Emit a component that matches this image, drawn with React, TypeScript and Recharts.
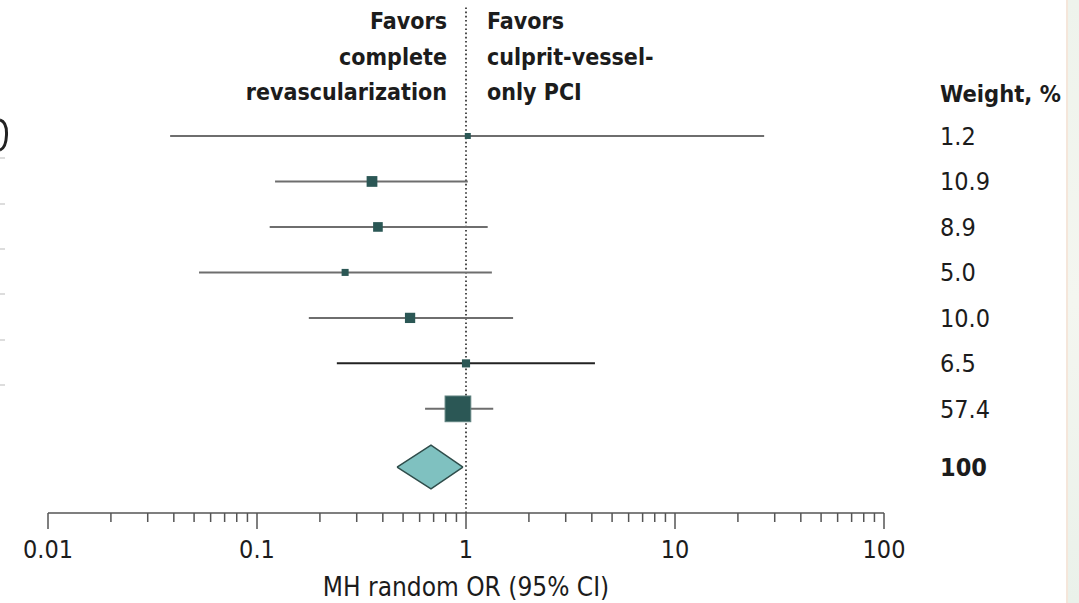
import {
  Area,
  ComposedChart,
  ReferenceLine,
  Scatter,
  XAxis,
  YAxis,
} from 'recharts';

// Study rows, top to bottom
const studyRows = [1, 2, 3, 4, 5, 6, 7];
const oddsRatio = [1.02, 0.355, 0.379, 0.264, 0.54, 1.0, 0.915];
const ciLow = [0.0384, 0.122, 0.115, 0.0528, 0.177, 0.241, 0.637];
const ciHigh = [26.7, 1.02, 1.27, 1.33, 1.68, 4.14, 1.35];
const weightPct = [1.2, 10.9, 8.9, 5.0, 10.0, 6.5, 57.4];

// Pooled estimate (diamond)
const pooledRow = 8.28;
const pooledOR = 0.68;
const pooledLow = 0.468;
const pooledHigh = 0.967;
const pooledWeight = 100;

// Axis ticks
const majorTicks = [0.01, 0.1, 1, 10, 100];
const majorLabels = ['0.01', '0.1', '1', '10', '100'];
const minorMultiples = [2, 3, 4, 5, 6, 7, 8, 9];

const headerRow = 0;
const headerLabel = 'Weight, %';
const axisTitle = 'MH random OR (95% CI)';
const favorsLeft = ['Favors', 'complete', 'revascularization'];
const favorsRight = ['Favors', 'culprit-vessel-', 'only PCI'];

const FONT = "'DejaVu Sans Condensed', 'DejaVu Sans', sans-serif";
const TEXT = '#1c1c1c';
const MARKER = '#2b5755';

const studies = studyRows.map((row, i) => ({
  row,
  or: oddsRatio[i],
  lo: ciLow[i],
  hi: ciHigh[i],
  weight: weightPct[i],
}));

const diamond = [
  { or: pooledLow, band: [pooledRow, pooledRow] },
  { or: pooledOR, band: [pooledRow - 0.48, pooledRow + 0.48] },
  { or: pooledHigh, band: [pooledRow, pooledRow] },
];

const allTicks = [
  ...majorTicks,
  ...majorTicks.slice(0, -1).flatMap((d) => minorMultiples.map((m) => m * d)),
].sort((a, b) => a - b);

const weightByRow: Record<string, string> = { [headerRow]: headerLabel };
studies.forEach((s) => (weightByRow[s.row] = s.weight.toFixed(1)));
weightByRow[pooledRow] = String(pooledWeight);

function XTick({ x, y, payload }: any) {
  const idx = majorTicks.indexOf(payload.value);
  const major = idx >= 0;
  return (
    <g>
      <line x1={x} x2={x} y1={y} y2={y + (major ? 16 : 9)} stroke="#555" strokeWidth={1.5} />
      {major && (
        <text x={x} y={y + 45} textAnchor="middle" fill={TEXT} fontSize={25} fontFamily={FONT}>
          {majorLabels[idx]}
        </text>
      )}
    </g>
  );
}

function WeightTick({ x, y, payload }: any) {
  const v = payload.value;
  const bold = v === headerRow || v === pooledRow;
  return (
    <text
      x={x}
      y={y + (v === headerRow ? 11 : 9)}
      textAnchor="start"
      fill={TEXT}
      fontSize={v === headerRow ? 23.5 : 25}
      fontWeight={bold ? 700 : 400}
      fontFamily={FONT}
    >
      {weightByRow[v]}
    </text>
  );
}

function StudyMarker({ cx, cy, payload }: any) {
  const big = payload.weight > 50;
  const side = Math.max(6, 3.5 * Math.sqrt(payload.weight) - 0.8);
  return (
    <rect
      x={cx - side / 2}
      y={cy - side / 2}
      width={side}
      height={side}
      fill={MARKER}
      stroke={big ? '#5f827f' : 'none'}
      strokeWidth={1}
    />
  );
}

export default function App() {
  return (
    <div style={{ position: 'absolute', left: 0, top: 0, width: 1079, height: 603, background: '#fff', fontFamily: FONT }}>
      <ComposedChart
        width={1079}
        height={603}
        margin={{ top: 5, right: 0, left: 48, bottom: 0 }}
      >
        <XAxis
          dataKey="or"
          type="number"
          scale="log"
          domain={[0.01, 100]}
          allowDataOverflow
          ticks={allTicks}
          interval={0}
          tick={<XTick />}
          tickLine={false}
          tickSize={0}
          tickMargin={0}
          axisLine={{ stroke: '#555', strokeWidth: 1.5 }}
          height={90}
          label={{
            value: axisTitle,
            position: 'insideBottom',
            offset: 7,
            fill: TEXT,
            fontSize: 26,
            fontFamily: FONT,
          }}
        />
        <YAxis
          dataKey="row"
          type="number"
          orientation="right"
          reversed
          domain={[-1.88, 9.29]}
          allowDataOverflow
          ticks={[headerRow, ...studyRows, pooledRow]}
          interval={0}
          tick={<WeightTick />}
          tickLine={false}
          axisLine={false}
          tickSize={0}
          tickMargin={56}
          width={195}
        />
        <ReferenceLine x={1} stroke="#222" strokeWidth={1.6} strokeDasharray="1.6 2.6" />
        {studies.map((s) => (
          <ReferenceLine
            key={s.row}
            segment={[
              { x: s.lo, y: s.row },
              { x: s.hi, y: s.row },
            ]}
            stroke={s.row === 6 ? '#222' : '#6e6e6e'}
            strokeWidth={2}
          />
        ))}
        <Area
          data={diamond}
          dataKey="band"
          type="linear"
          fill="#7fc1c0"
          fillOpacity={1}
          stroke="#2f4d4b"
          strokeWidth={1.5}
          dot={false}
          activeDot={false}
          isAnimationActive={false}
        />
        <Scatter data={studies} shape={<StudyMarker />} isAnimationActive={false} />
      </ComposedChart>

      <svg
        width={1079}
        height={603}
        style={{ position: 'absolute', left: 0, top: 0, pointerEvents: 'none' }}
      >
        <g fontFamily={FONT} fontSize={23} fontWeight={700} fill={TEXT}>
          {favorsLeft.map((t, i) => (
            <text key={'l' + i} x={447} y={29 + i * 35.5} textAnchor="end">
              {t}
            </text>
          ))}
          {favorsRight.map((t, i) => (
            <text key={'r' + i} x={487} y={29 + i * 35.5} textAnchor="start">
              {t}
            </text>
          ))}
        </g>
        {/* clipped remnants of the neighbouring panel */}
        <path d="M0 120 Q7 122 6.5 135 Q6 148 0 150" fill="none" stroke="#222" strokeWidth={3} />
        {[158, 204, 249, 294, 340, 385].map((y) => (
          <line key={y} x1={0} x2={5} y1={y} y2={y} stroke="#bbb" strokeWidth={1} />
        ))}
      </svg>

      <div
        style={{
          position: 'absolute',
          left: 1066,
          top: 0,
          width: 13,
          height: 603,
          background: 'linear-gradient(180deg, #eef3ec, #f4f6f0 50%, #eaf1ea)',
          borderLeft: '2px solid #f5e6da',
          boxSizing: 'border-box',
        }}
      />
    </div>
  );
}
